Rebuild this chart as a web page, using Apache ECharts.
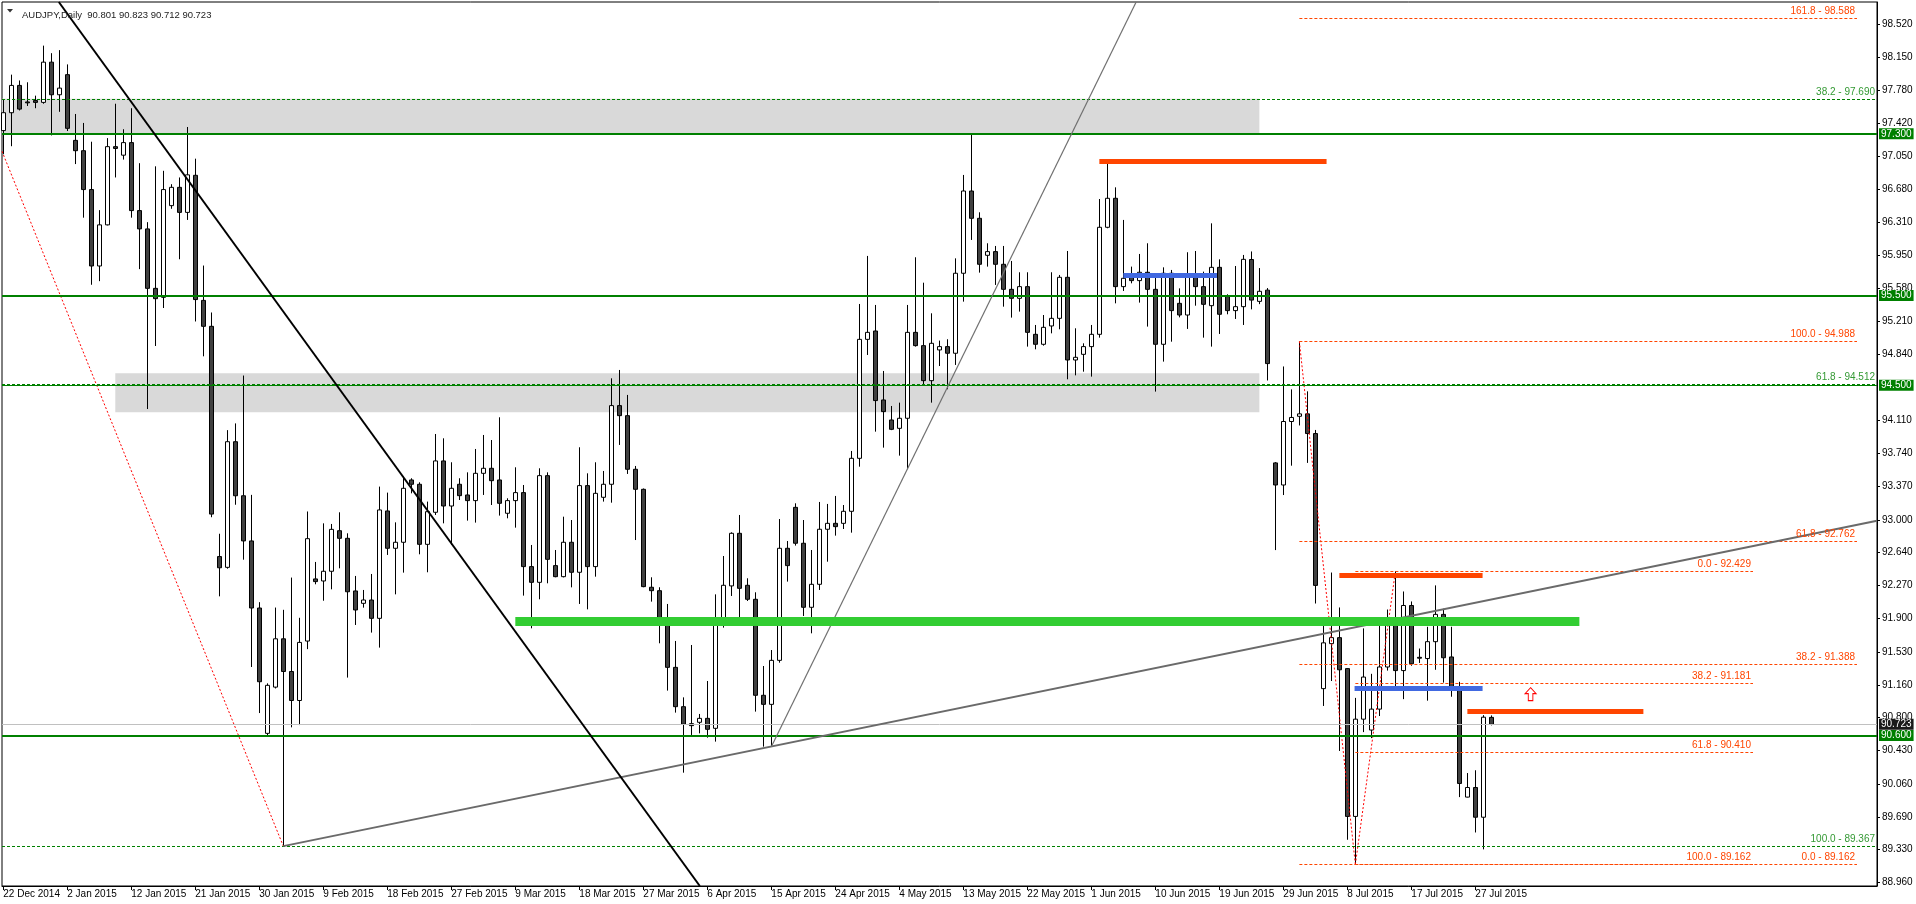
<!DOCTYPE html>
<html><head><meta charset="utf-8">
<script src="https://cdn.jsdelivr.net/npm/echarts@6/dist/echarts.min.js"></script>
<style>html,body{margin:0;padding:0;background:#fff}#c{width:1916px;height:904px}</style>
</head><body><div id="c"></div>
<script>
const dateLabels = ['22 Dec 2014','2 Jan 2015','12 Jan 2015','21 Jan 2015','30 Jan 2015','9 Feb 2015','18 Feb 2015','27 Feb 2015','9 Mar 2015','18 Mar 2015','27 Mar 2015','6 Apr 2015','15 Apr 2015','24 Apr 2015','4 May 2015','13 May 2015','22 May 2015','1 Jun 2015','10 Jun 2015','19 Jun 2015','29 Jun 2015','8 Jul 2015','17 Jul 2015','27 Jul 2015'];
const priceTicks = [98.52,98.15,97.78,97.42,97.05,96.68,96.31,95.95,95.58,95.21,94.84,94.11,93.74,93.37,93.00,92.64,92.27,91.90,91.53,91.16,90.80,90.43,90.06,89.69,89.33,88.96];

const opens = [97.336,97.535,97.839,97.655,97.670,97.650,98.098,97.735,97.959,97.227,
97.112,96.679,95.828,96.286,97.157,97.062,97.202,96.445,96.241,95.579,
95.479,96.500,96.704,96.425,96.838,95.445,95.156,92.592,92.472,93.871,
93.269,92.766,92.019,90.623,91.138,91.676,91.312,90.989,91.651,92.343,
92.320,92.428,92.880,92.795,92.209,92.071,92.108,91.904,93.100,92.684,
92.751,93.445,93.397,92.728,93.085,93.657,93.155,93.397,93.278,93.215,
93.519,93.575,93.445,93.074,93.215,93.304,92.480,92.305,93.493,92.491,
92.368,92.751,92.417,93.382,92.480,93.252,93.397,94.273,94.161,93.564,
93.341,92.250,92.212,91.893,91.358,90.920,90.731,90.746,90.790,90.679,
91.886,92.265,92.851,92.272,92.116,91.047,90.946,91.436,92.684,93.140,
92.740,92.027,92.283,92.896,92.962,92.962,93.096,93.686,95.011,95.104,
94.336,94.113,94.020,94.132,95.089,94.941,94.551,94.893,94.930,94.856,
95.747,96.663,96.359,95.947,95.988,95.847,95.568,95.468,95.598,95.067,
94.956,95.160,95.245,95.702,94.781,94.844,94.930,95.067,96.259,96.582,
95.598,95.728,95.665,95.758,95.568,94.956,95.747,95.412,95.282,95.735,
95.598,95.386,95.813,95.487,95.331,95.375,95.900,95.434,95.559,93.635,
93.389,94.096,94.154,94.181,93.962,91.121,91.622,91.689,91.344,89.698,
90.781,90.660,90.893,91.362,91.832,91.322,92.047,91.470,91.456,91.644,
91.948,91.474,91.139,89.913,90.020,89.689,90.801];
const highs = [97.685,97.959,97.894,97.874,97.725,98.282,98.198,98.232,98.073,97.521,
97.421,97.212,96.450,97.252,97.635,97.351,97.585,96.973,96.316,96.938,
96.888,96.739,96.814,97.376,97.023,95.833,95.310,92.846,94.000,94.075,
94.608,93.279,92.084,91.180,92.024,91.999,92.358,91.910,93.094,92.532,
92.962,92.955,93.085,92.851,92.376,92.220,92.398,93.371,93.304,92.973,
93.482,93.464,93.419,93.204,93.957,93.909,93.642,93.464,93.530,93.790,
93.946,93.890,94.143,93.241,93.586,93.389,92.721,93.575,93.530,92.665,
93.036,92.999,93.809,93.519,93.642,93.545,94.577,94.670,94.392,93.601,
93.350,92.361,92.250,92.064,91.652,91.024,91.607,90.839,91.206,92.171,
92.598,92.862,93.055,92.350,92.194,91.373,91.551,93.010,92.765,93.185,
92.999,92.665,93.200,93.178,93.267,93.166,93.768,95.405,95.940,95.394,
94.659,94.269,94.306,95.394,95.925,95.642,95.301,94.997,95.012,95.913,
96.842,97.298,96.426,96.081,96.051,96.051,95.884,95.758,95.758,95.171,
95.282,95.758,95.728,95.995,95.134,94.967,95.171,96.574,96.983,96.704,
96.341,95.821,95.962,96.081,95.747,95.813,95.784,95.579,95.981,95.995,
95.765,96.303,95.902,95.513,95.828,95.951,95.990,95.805,95.582,93.644,
94.709,94.454,94.988,94.432,94.002,91.855,92.414,92.025,91.350,91.018,
91.792,91.286,91.881,92.002,92.429,92.203,92.092,91.568,91.810,92.271,
92.011,91.810,91.197,90.181,90.212,90.826,90.823];
const lows = [97.072,97.162,97.560,97.610,97.585,97.635,97.282,97.545,97.331,96.963,
96.366,95.619,95.659,96.280,96.814,97.013,96.366,95.793,94.235,94.937,
95.360,96.465,95.903,96.341,95.210,94.822,93.030,92.149,92.457,93.169,
92.557,91.362,90.849,90.600,91.123,89.367,90.690,90.715,91.561,92.283,
92.100,92.227,92.461,91.244,91.830,92.023,91.745,91.578,92.610,92.171,
92.413,93.296,92.617,92.417,93.055,92.962,92.721,93.222,92.992,92.970,
93.278,93.166,93.048,93.018,92.914,92.157,91.793,92.116,92.294,92.361,
92.360,92.249,92.064,92.004,92.368,93.204,93.192,93.835,93.512,92.776,
92.250,92.090,91.626,91.099,90.854,90.185,90.605,90.623,90.575,90.531,
91.800,92.153,91.915,92.097,90.865,90.475,90.475,91.410,92.313,92.714,
91.930,91.737,92.220,92.535,92.825,92.899,92.858,93.593,94.837,93.983,
93.805,94.000,93.716,93.564,94.930,94.492,94.306,94.714,94.455,94.726,
95.431,96.118,95.754,95.821,95.617,95.375,95.253,95.320,94.930,94.900,
94.941,95.078,95.123,94.566,94.610,94.651,94.596,95.030,96.248,95.412,
95.550,95.635,95.420,95.153,94.429,94.763,94.985,95.256,95.127,95.386,
95.030,94.930,95.071,95.290,95.238,95.171,95.345,95.403,94.553,92.664,
93.277,93.604,94.052,93.635,92.069,90.928,91.206,90.427,89.438,89.162,
90.637,90.570,90.816,91.322,91.098,91.004,91.376,91.407,90.987,91.331,
91.188,91.031,89.913,89.910,89.519,89.331,90.712];
const closes = [97.535,97.839,97.575,97.645,97.650,98.098,97.735,97.809,97.361,97.112,
96.679,95.828,96.286,97.157,97.137,97.202,96.445,96.241,95.579,95.464,
96.679,96.704,96.425,96.843,95.454,95.156,93.065,92.467,93.871,93.269,
92.766,92.019,91.198,91.158,91.676,91.312,90.989,91.636,92.791,92.313,
92.428,92.895,92.795,92.200,91.997,92.108,91.904,93.111,92.684,92.751,
93.352,93.397,92.728,93.092,93.657,93.155,93.352,93.270,93.215,93.519,
93.575,93.437,93.185,93.215,93.304,92.480,92.305,93.493,92.561,92.368,
92.751,92.417,93.382,92.480,93.296,93.397,94.273,94.161,93.564,93.341,
92.257,92.212,91.893,91.358,90.920,90.724,90.709,90.790,90.668,91.878,
92.272,92.851,92.238,92.116,91.047,90.946,91.436,92.684,92.491,92.740,
92.027,92.283,92.896,92.962,92.925,93.096,93.686,95.011,95.089,94.329,
94.206,94.009,94.132,95.089,94.941,94.551,94.967,94.930,94.856,95.747,
96.663,96.359,95.847,95.988,95.847,95.568,95.468,95.598,95.089,94.956,
95.145,95.245,95.702,94.781,94.811,94.930,95.067,96.259,96.582,95.598,
95.691,95.665,95.758,95.568,94.956,95.747,95.331,95.282,95.735,95.598,
95.401,95.813,95.290,95.331,95.375,95.902,95.448,95.546,94.741,93.389,
94.096,94.141,94.181,93.962,92.271,91.631,91.689,91.331,89.698,90.781,
91.250,90.893,91.362,91.832,91.322,92.047,91.398,91.460,91.644,91.948,
91.465,91.139,90.065,90.020,89.689,90.803,90.723];

// horizontal support/resistance levels and last price
const supportLevels = [97.300, 95.500, 94.500, 90.600];
const lastPrice = 90.723;
const lastBar = {open: 90.801, high: 90.823, low: 90.712, close: 90.723};
// fibonacci levels [level, price]
const greenFib = [[38.2, 97.690], [61.8, 94.512], [100.0, 89.367]];
const redFibA = [[161.8, 98.588], [100.0, 94.988], [61.8, 92.762], [38.2, 91.388], [0.0, 89.162]];
const redFibASpan = [162, 231.7];
const redFibB = [[0.0, 92.429], [38.2, 91.181], [61.8, 90.410], [100.0, 89.162]];
const redFibBSpan = [169, 218.7];
// trend lines [[bar, price], [bar, price]]
const blackTrend = [[6.94, 98.768], [87.06, 88.923]];
const steepTrend = [[96, 90.475], [141.6, 98.768]];
const longTrend = [[35, 89.367], [234.2, 92.99]];
const fibDiagonals = [[[-0.16, 97.105], [35, 89.367]], [[162, 94.988], [169, 89.162]], [[169, 89.162], [174, 92.429]]];
// thick marker segments [barFrom, barTo, price]
const redSegments = [[137, 165.4, 96.99], [167, 184.9, 92.387], [183, 205, 90.874]];
const blueSegments = [[140, 151.7, 95.724], [168.9, 184.9, 91.13]];
const greenBand = [64, 197, 91.87];
// gray zones [barFrom, priceTop, barTo, priceBottom]
const grayZones = [[-0.16, 97.69, 157, 97.30], [14, 94.633, 157, 94.20]];
const arrowPoint = [190.9, 91.06];

const FONT = 'Liberation Sans, Arial, sans-serif';
const candleData = opens.map((o, i) => [i, o, closes[i], lows[i], highs[i]]);
const xTickIdx = dateLabels.map((_, i) => i * 8);

const ml = [];
const seg = (a, b, style) => [{coord: a, lineStyle: style, label: {show: false}}, {coord: b}];
fibDiagonals.forEach(d => ml.push(seg(d[0], d[1], {color: '#ff0000', width: 1, type: [2, 2]})));
greenFib.forEach(([l, v]) => ml.push({yAxis: v, lineStyle: {color: '#008000', width: 1, type: [3, 2]},
  label: {show: true, position: 'insideEndTop', distance: 2, formatter: l.toFixed(1) + ' - ' + v.toFixed(3), color: '#339933', fontSize: 10, fontFamily: FONT}}));
redFibA.forEach(([l, v]) => ml.push([{coord: [redFibASpan[0], v], lineStyle: {color: '#ff4500', width: 1, type: [3, 2]},
  label: {show: true, position: 'insideEndTop', distance: 2, formatter: l.toFixed(1) + ' - ' + v.toFixed(3), color: '#ff4500', fontSize: 10, fontFamily: FONT}}, {coord: [redFibASpan[1], v]}]));
redFibB.forEach(([l, v]) => ml.push([{coord: [redFibBSpan[0], v], lineStyle: {color: '#ff4500', width: 1, type: [3, 2]},
  label: {show: true, position: 'insideEndTop', distance: 2, formatter: l.toFixed(1) + ' - ' + v.toFixed(3), color: '#ff4500', fontSize: 10, fontFamily: FONT}}, {coord: [redFibBSpan[1], v]}]));
ml.push({yAxis: lastPrice, lineStyle: {color: '#c0c0c0', width: 1, type: 'solid'},
  label: {show: true, position: 'end', distance: 2, formatter: lastPrice.toFixed(3), backgroundColor: '#1a1a1a', color: '#fff', padding: [1, 2, 0, 2], fontSize: 10, fontFamily: FONT}});
supportLevels.forEach(v => ml.push({yAxis: v, lineStyle: {color: '#008000', width: v === 94.5 ? 1 : 2, type: 'solid'},
  label: {show: true, position: 'end', distance: 2, formatter: v.toFixed(3), backgroundColor: '#008000', color: '#fff', padding: [1, 2, 0, 2], fontSize: 10, fontFamily: FONT}}));
ml.push(seg(longTrend[0], longTrend[1], {color: '#6a6a6a', width: 2, type: 'solid'}));
ml.push(seg(steepTrend[0], steepTrend[1], {color: '#707070', width: 1.2, type: 'solid'}));
ml.push(seg(blackTrend[0], blackTrend[1], {color: '#000000', width: 2, type: 'solid'}));
ml.push(seg([greenBand[0], greenBand[2]], [greenBand[1], greenBand[2]], {color: '#32cd32', width: 9, type: 'solid', cap: 'butt'}));
redSegments.forEach(s => ml.push(seg([s[0], s[2]], [s[1], s[2]], {color: '#ff4500', width: 5, type: 'solid', cap: 'butt'})));
blueSegments.forEach(s => ml.push(seg([s[0], s[2]], [s[1], s[2]], {color: '#4169e1', width: 5, type: 'solid', cap: 'butt'})));

const chart = echarts.init(document.getElementById('c'), null, {renderer: 'canvas'});
chart.setOption({
  animation: false,
  backgroundColor: '#ffffff',
  textStyle: {fontFamily: FONT},
  title: {text: 'AUDJPY,Daily  ' + [lastBar.open, lastBar.high, lastBar.low, lastBar.close].map(v => v.toFixed(3)).join(' '),
    left: 17, top: 5, textStyle: {fontSize: 9.5, fontWeight: 'normal', color: '#222', fontFamily: FONT}},
  graphic: [{type: 'polygon', shape: {points: [[7, 9], [13, 9], [10, 12.5]]}, style: {fill: '#333'}}],
  grid: {left: 2, right: 39, top: 2, bottom: 18, show: true, borderColor: '#000', borderWidth: 1, backgroundColor: '#fff'},
  xAxis: {type: 'value', min: -0.16, max: 234.2, position: 'bottom',
    axisLine: {show: true, onZero: false, lineStyle: {color: '#000'}},
    axisTick: {show: true, customValues: xTickIdx, length: 4, lineStyle: {color: '#000'}},
    axisLabel: {customValues: xTickIdx, formatter: v => dateLabels[Math.round(v / 8)] || '', align: 'left', margin: 3, fontSize: 10, color: '#000', fontFamily: FONT},
    splitLine: {show: false}},
  yAxis: {type: 'value', position: 'right', min: 88.923, max: 98.768, scale: true,
    axisLine: {show: true, onZero: false, lineStyle: {color: '#000'}},
    axisTick: {show: true, customValues: priceTicks, length: 3, lineStyle: {color: '#000'}},
    axisLabel: {customValues: priceTicks, formatter: v => v.toFixed(3), margin: 5, fontSize: 10, color: '#000', fontFamily: FONT},
    splitLine: {show: false}},
  series: [{
    type: 'candlestick', data: candleData, encode: {x: 0, y: [1, 2, 3, 4]}, barWidth: 5, clip: true,
    itemStyle: {color: '#ffffff', color0: '#404040', borderColor: '#000000', borderColor0: '#000000', borderWidth: 1},
    emphasis: {disabled: true},
    markArea: {silent: true, itemStyle: {color: '#d9d9d9'},
      data: grayZones.map(z => [{coord: [z[0], z[1]]}, {coord: [z[2], z[3]]}])},
    markLine: {silent: true, symbol: ['none', 'none'], animation: false, precision: 3, data: ml},
    markPoint: {silent: true, animation: false, data: [{coord: arrowPoint, symbol: 'path://M6,0 L12,6 L8.5,6 L8.5,13 L3.5,13 L3.5,6 L0,6 Z', symbolSize: [11, 13],
      itemStyle: {color: '#ffffff', borderColor: '#ff0000', borderWidth: 1}, label: {show: false}}]}
  }]
});
</script></body></html>
